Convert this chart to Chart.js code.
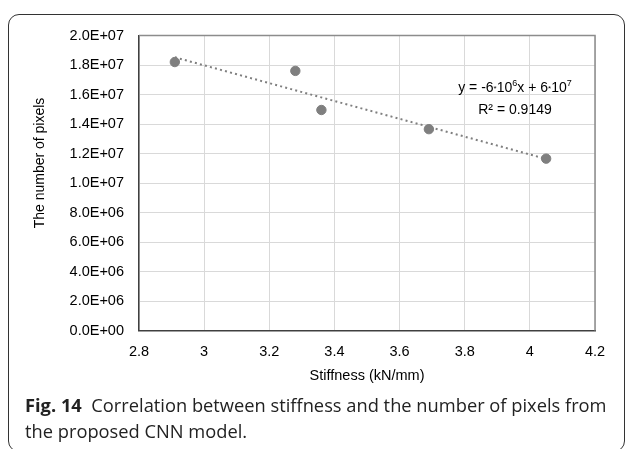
<!DOCTYPE html>
<html>
<head>
<meta charset="utf-8">
<script src="https://cdn.jsdelivr.net/npm/chart.js@4/dist/chart.umd.min.js"></script>
<style>
  body { margin: 0; background: #fff; }
  #wrap { position: relative; width: 627px; height: 449px; overflow: hidden; }
  #frame { position: absolute; left: 8px; top: 14px; width: 615px; height: 436px;
           border: 1.3px solid #333; border-radius: 11px; }
  #box { position: absolute; left: 0; top: 0; width: 627px; height: 395px; }
  #eq { position: absolute; left: 440px; top: 77px; width: 150px; text-align: center;
        font: 14px "Liberation Sans", Arial, sans-serif; color: #000; line-height: 21px; }
  #eq sup { font-size: 9px; line-height: 0; }
  #eq .op { font-size: 8px; vertical-align: 1px; }
  #cap { position: absolute; left: 25px; top: 392px; font: 18.3px "Open Sans", sans-serif;
         color: #222; line-height: 26px; white-space: nowrap; }
  #cap b { font-weight: 700; }
</style>
</head>
<body>
<div id="wrap">
  <div id="frame"></div>
  <div id="box"><canvas id="stiffness-graph"></canvas></div>
  <div id="eq">y = -6<span class="op">*</span>10<sup>6</sup>x + 6<span class="op">*</span>10<sup>7</sup><br>R² = 0.9149</div>
  <div id="cap"><b>Fig. 14</b>&nbsp; Correlation between stiffness and the number of pixels from<br>the proposed CNN model.</div>
</div>
<script>
// stiffness (kN/mm) and number of pixels
var stiffness = [2.91, 3.28, 3.36, 3.69, 4.05];
var pixels = [1.82e7, 1.76e7, 1.495e7, 1.365e7, 1.165e7];
var yTitle = 'The number of pixels';
var xTitle = 'Stiffness (kN/mm)';

// least squares line through the points (the excel linear trendline)
function trend(xs, ys) {
    var n = xs.length, mx = 0, my = 0, sxy = 0, sxx = 0;
    for (var i = 0; i < n; i++) { mx += xs[i] / n; my += ys[i] / n; }
    for (var i = 0; i < n; i++) {
        sxy += (xs[i] - mx) * (ys[i] - my);
        sxx += (xs[i] - mx) * (xs[i] - mx);
    }
    var b = sxy / sxx, a = my - b * mx;
    var x0 = Math.min.apply(null, xs), x1 = Math.max.apply(null, xs);
    return [{x: x0, y: a + b * x0}, {x: x1, y: a + b * x1}];
}

function sci(v) {
    if (v === 0) return '0.0E+00';
    var e = Math.floor(Math.log10(Math.abs(v)) + 1e-9);
    var m = v / Math.pow(10, e);
    return m.toFixed(1) + 'E+' + String(e).padStart(2, '0');
}

var points = stiffness.map(function (s, i) { return {x: s, y: pixels[i]}; });
var fam = '"Liberation Sans", Arial, sans-serif';

// top and right edges of the plot area, plus the y title (sits a bit above centre)
var plotExtras = {
    id: 'plotExtras',
    beforeDatasetsDraw: function (chart) {
        var c = chart.ctx, a = chart.chartArea;
        c.save();
        c.strokeStyle = '#8c8c8c';
        c.lineWidth = 1.5;
        c.beginPath();
        c.moveTo(a.left, a.top);
        c.lineTo(a.right, a.top);
        c.lineTo(a.right, a.bottom);
        c.stroke();
        c.restore();
    },
    afterDraw: function (chart) {
        var c = chart.ctx, a = chart.chartArea;
        c.save();
        c.translate(40, (a.top + a.bottom) / 2 - 20);
        c.rotate(-Math.PI / 2);
        c.font = '14px ' + fam;
        c.fillStyle = '#000';
        c.textAlign = 'center';
        c.textBaseline = 'middle';
        c.fillText(yTitle, 0, 0);
        c.restore();
    }
};

var tickFont = {family: fam, size: 14.5};
var ctx = document.getElementById('stiffness-graph');
var chart = new Chart(ctx, {
    type: 'scatter',
    data: {
        datasets: [
            {
                label: 'data',
                data: points,
                backgroundColor: '#7f7f7f',
                borderColor: '#7f7f7f',
                pointRadius: 4.7,
                pointHoverRadius: 4.7,
                order: 1
            },
            {
                label: 'trend',
                data: trend(stiffness, pixels),
                showLine: true,
                borderColor: '#7f7f7f',
                borderWidth: 2,
                borderDash: [2, 3.2],
                pointRadius: 0,
                order: 2
            }
        ]
    },
    options: {
        responsive: true,
        maintainAspectRatio: false,
        animation: false,
        layout: {padding: {left: 0, top: 35.5, right: 32, bottom: 10}},
        plugins: {legend: {display: false}, tooltip: {enabled: false}},
        scales: {
            x: {
                type: 'linear',
                min: 2.8,
                max: 4.2,
                ticks: {
                    stepSize: 0.2,
                    padding: 13,
                    color: '#000',
                    font: tickFont,
                    callback: function (v) { return String(Number(v.toFixed(1))); }
                },
                grid: {color: '#d9d9d9', lineWidth: 1, drawTicks: false},
                border: {color: '#404040', width: 1.5},
                title: {display: true, text: xTitle, color: '#000', font: {family: fam, size: 14.5}, padding: 0},
                afterFit: function (s) { s.height = 54.5; }
            },
            y: {
                min: 0,
                max: 2e7,
                ticks: {
                    stepSize: 2e6,
                    padding: 15,
                    color: '#000',
                    font: tickFont,
                    callback: function (v) { return sci(v); }
                },
                grid: {color: '#d9d9d9', lineWidth: 1, drawTicks: false},
                border: {color: '#404040', width: 1.5},
                afterFit: function (s) { s.width = 139; }
            }
        }
    },
    plugins: [plotExtras]
});
</script>
</body>
</html>
